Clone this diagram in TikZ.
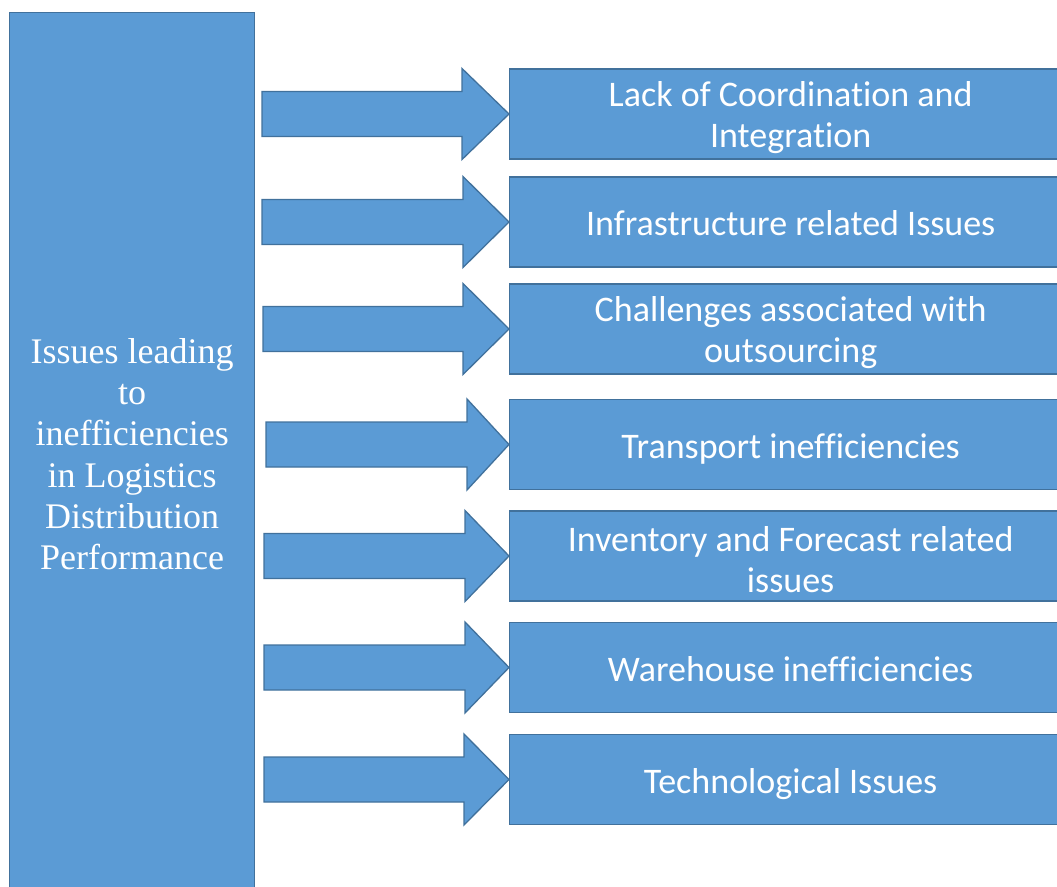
\documentclass[tikz,border=0pt]{standalone}
\usepackage{fontspec}
\newfontfamily\boxfont[Ligatures=NoCommon]{Carlito}
\newfontfamily\mainserif[Ligatures=NoCommon]{Liberation Serif}
\begin{document}
\begin{tikzpicture}[x=1pt,y=-1pt,
  blockfill/.style={fill={rgb,255:red,91;green,155;blue,213},
                    draw={rgb,255:red,65;green,113;blue,156},line width=1.3pt},
  issuebox/.style={blockfill,anchor=west,minimum width=562,minimum height=90,inner sep=0pt},
  issuetext/.style={inner sep=0pt,align=center,text=white,
                    font=\boxfont\fontsize{36}{41}\selectfont},
  oneline/.style={issuetext,text height=27pt,text depth=0pt},
  mainbox/.style={blockfill,anchor=north west,minimum width=245,minimum height=888,inner sep=0pt},
  maintext/.style={inner sep=0pt,align=center,text=white,
                   font=\mainserif\fontsize{36}{41.3}\selectfont},
  blockarrow/.style={blockfill,line join=miter}]
\useasboundingbox (0,0) rectangle (1057,886);
\clip (0,0) rectangle (1057,886);

% left category box
\node[mainbox] (root) at (9,12) {};
\node[maintext] (roottext) at ([yshift=2.5pt]root.center)
  {Issues leading\\to\\inefficiencies\\in Logistics\\Distribution\\Performance};

% issue boxes on the right
\node[issuebox] (b1) at (509,114) {};
\node[issuebox] (b2) at (509,222) {};
\node[issuebox] (b3) at (509,329) {};
\node[issuebox] (b4) at (509,444.5) {};
\node[issuebox] (b5) at (509,556) {};
\node[issuebox] (b6) at (509,667.5) {};
\node[issuebox] (b7) at (509,779.5) {};

% their texts (two-line texts sit slightly low)
\node[issuetext] (t1) at ([yshift=-3.5pt]b1.center) {Lack of Coordination and\\Integration};
\node[oneline] (t2) at (b2.center) {Infrastructure related Issues};
\node[issuetext] (t3) at ([yshift=-3.5pt]b3.center) {Challenges associated with\\outsourcing};
\node[oneline] (t4) at (b4.center) {Transport inefficiencies};
\node[issuetext] (t5) at ([yshift=-3.5pt]b5.center) {Inventory and Forecast related\\issues};
\node[oneline] (t6) at (b6.center) {Warehouse inefficiencies};
\node[oneline] (t7) at (b7.center) {Technological Issues};

% block arrows: tail x / head base x / centre y / target box
\foreach \tail/\base/\cy/\tgt in {262/462/114/b1,262/463/222/b2,263/463/329/b3,
    266/467/444.5/b4,264/465/556/b5,264/465/667.5/b6,264/464/779.5/b7}{
  \draw[blockarrow]
    (\tail,\cy-22.5) -- (\base,\cy-22.5) -- (\base,\cy-45.5) -- (\tgt.west)
    -- (\base,\cy+45.5) -- (\base,\cy+22.5) -- (\tail,\cy+22.5) -- cycle;
}
\end{tikzpicture}
\end{document}
